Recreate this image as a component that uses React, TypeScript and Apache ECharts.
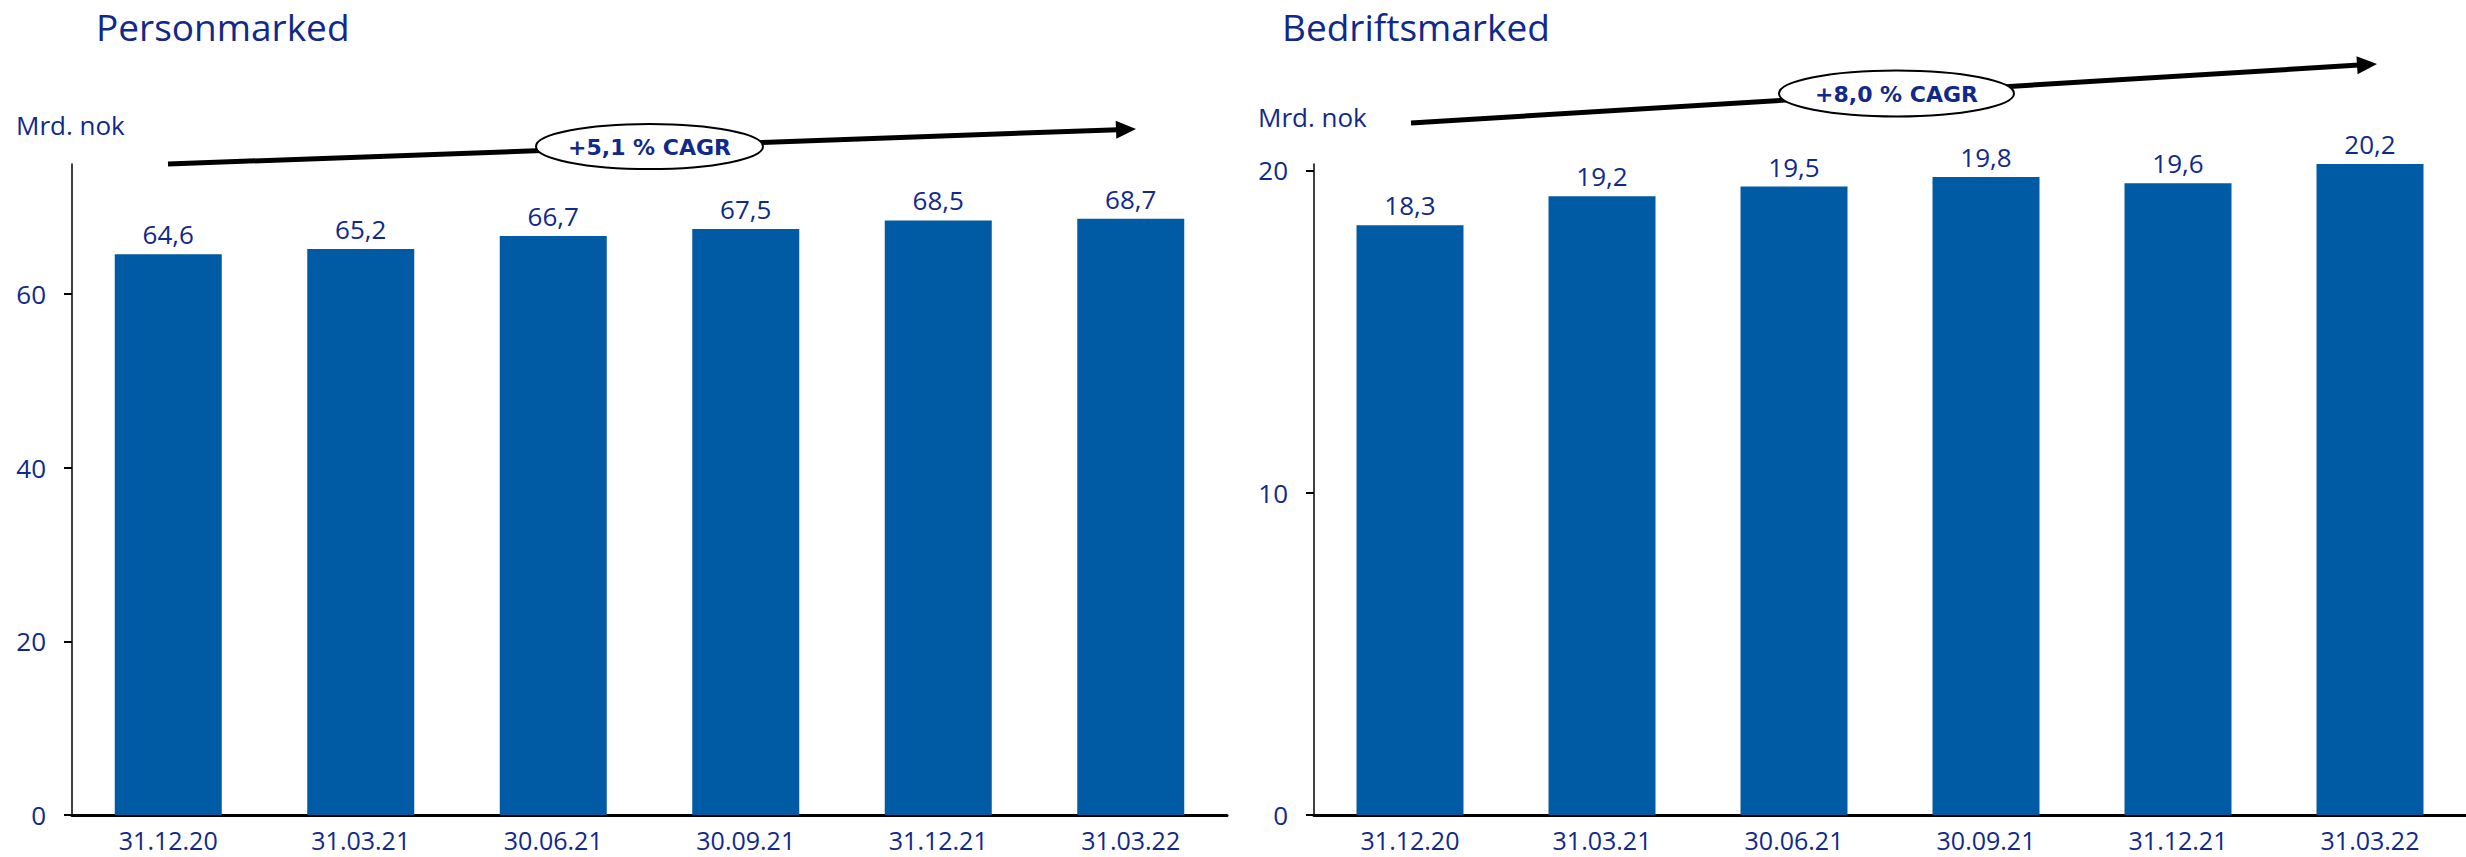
import React, { useEffect, useRef } from "react";
import * as echarts from "echarts";

// Balances per quarter-end, in billion NOK
const categories = ["31.12.20", "31.03.21", "30.06.21", "30.09.21", "31.12.21", "31.03.22"];
const personValues = [64.6, 65.2, 66.7, 67.5, 68.5, 68.7];
const bedriftValues = [18.3, 19.2, 19.5, 19.8, 19.6, 20.2];
const personTicks = [0, 20, 40, 60];
const bedriftTicks = [0, 10, 20];
const personCagr = "+5,1 % CAGR";
const bedriftCagr = "+8,0 % CAGR";
const panelTitles = ["Personmarked", "Bedriftsmarked"];
const unitLabel = "Mrd. nok";

const NAVY = "#10298a";
const BAR = "#005aa4";
const FONT = '"Open Sans", "Noto Sans", sans-serif';
const BADGE_FONT = '"DejaVu Sans", "Open Sans", sans-serif';

const fmt = (v: number) => v.toFixed(1).replace(".", ",");

// Thick trend arrow with an elliptical badge in the middle
function trendArrow(
  x1: number, y1: number, x2: number, y2: number,
  cx: number, cy: number, rx: number, ry: number, label: string
) {
  const dx = x2 - x1;
  const dy = y2 - y1;
  const len = Math.hypot(dx, dy);
  const ux = dx / len;
  const uy = dy / len;
  const headLen = 20;
  const headHalf = 9;
  const bx = x2 - ux * headLen;
  const by = y2 - uy * headLen;
  return [
    {
      type: "line",
      shape: { x1, y1, x2: bx + ux * 2, y2: by + uy * 2 },
      style: { stroke: "#000", lineWidth: 5 },
      z: 10,
    },
    {
      type: "polygon",
      shape: {
        points: [
          [x2, y2],
          [bx - uy * headHalf, by + ux * headHalf],
          [bx + uy * headHalf, by - ux * headHalf],
        ],
      },
      style: { fill: "#000" },
      z: 10,
    },
    {
      type: "ellipse",
      shape: { cx, cy, rx, ry },
      style: { fill: "#fff", stroke: "#000", lineWidth: 2 },
      z: 11,
    },
    {
      type: "text",
      style: {
        text: label,
        x: cx,
        y: cy + 1,
        align: "center",
        verticalAlign: "middle",
        font: `bold 22px ${BADGE_FONT}`,
        fill: NAVY,
      },
      z: 12,
    },
  ];
}

function textEl(text: string, x: number, y: number, size: number) {
  return {
    type: "text",
    style: {
      text,
      x,
      y,
      align: "left",
      verticalAlign: "middle",
      font: `${size}px ${FONT}`,
      lineHeight: size,
      fill: NAVY,
    },
    z: 12,
  };
}

function xAxisCfg(gridIndex: number) {
  return {
    type: "category",
    gridIndex,
    data: categories,
    axisLine: { show: true, lineStyle: { color: "#000", width: 3 } },
    axisTick: { show: false },
    axisLabel: { color: NAVY, fontSize: 25, fontFamily: FONT, margin: 12 },
  };
}

function yAxisCfg(gridIndex: number, max: number, interval: number, ticks: number[]) {
  return {
    type: "value",
    gridIndex,
    min: 0,
    max,
    interval,
    splitLine: { show: false },
    axisLine: { show: true, lineStyle: { color: "#000", width: 1.5 } },
    axisTick: {
      show: true,
      length: 8,
      lineStyle: { color: "#000", width: 2 },
      customValues: ticks,
    },
    axisLabel: {
      color: NAVY,
      fontSize: 26,
      fontFamily: FONT,
      margin: 26,
      customValues: ticks,
      formatter: (v: number) => String(v),
    },
  };
}

function barSeries(idx: number, values: number[]) {
  return {
    type: "bar",
    xAxisIndex: idx,
    yAxisIndex: idx,
    data: values,
    barWidth: 107,
    itemStyle: { color: BAR },
    label: {
      show: true,
      position: "top",
      distance: 7,
      color: NAVY,
      fontSize: 26,
      fontFamily: FONT,
      formatter: (p: any) => fmt(p.value as number),
    },
  };
}

export default function App() {
  const ref = useRef<HTMLDivElement>(null);

  useEffect(() => {
    if (!ref.current) return;
    const chart = echarts.init(ref.current, undefined, { renderer: "svg" });
    chart.setOption({
      animation: false,
      backgroundColor: "#fff",
      grid: [
        { left: 72, right: 1239, top: 164, bottom: 42 },
        { left: 1314, right: -8, top: 164, bottom: 42 },
      ],
      xAxis: [xAxisCfg(0), xAxisCfg(1)],
      yAxis: [
        yAxisCfg(0, 75, 20, personTicks),
        yAxisCfg(1, 20.2, 10, bedriftTicks),
      ],
      series: [barSeries(0, personValues), barSeries(1, bedriftValues)],
      graphic: [
        textEl(panelTitles[0], 96, 26, 37),
        textEl(panelTitles[1], 1282, 26, 37),
        textEl(unitLabel, 16, 125, 26),
        textEl(unitLabel, 1258, 117, 26),
        ...trendArrow(168, 164, 1136, 129, 649.5, 146.5, 113.5, 22.5, personCagr),
        ...trendArrow(1411, 123, 2377, 64, 1896.5, 93.5, 117.5, 23, bedriftCagr),
      ],
    });
    return () => chart.dispose();
  }, []);

  return (
    <div
      ref={ref}
      style={{ position: "fixed", left: 0, top: 0, width: 2466, height: 857 }}
    />
  );
}
